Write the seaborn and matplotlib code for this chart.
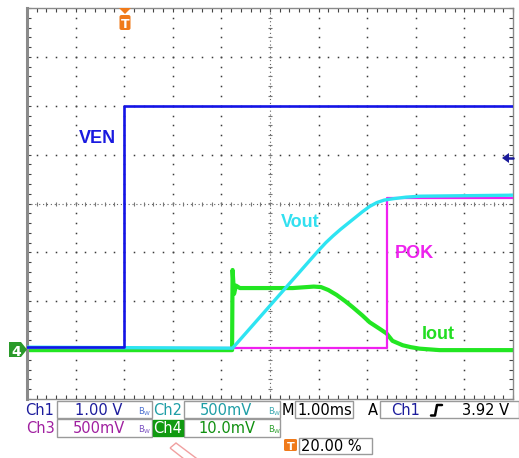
import numpy as np
import pandas as pd
import matplotlib
matplotlib.use("Agg")
import matplotlib.pyplot as plt
import seaborn as sns
from matplotlib.patches import Rectangle, Polygon, FancyBboxPatch
from matplotlib.lines import Line2D

# ---------------- data (time in ms, trigger at 0) ----------------
ven_t = [-2.0, 0.0, 0.0, 8.0]
ven_v = [0.06, 0.06, 5.0, 5.0]                      # V   (Ch1, 1.00 V/div)
vout_t = [-2.0, 2.23, 4.00, 4.15, 4.30, 4.45, 4.60, 4.75, 4.90, 5.05, 5.20, 5.35, 5.55, 5.80, 6.10, 8.0]
vout_v = [0.03, 0.02, 1.02, 1.10, 1.17, 1.235, 1.295, 1.355, 1.415, 1.47, 1.51, 1.535, 1.55, 1.565, 1.575, 1.585]  # V (Ch2, 500 mV/div)
pok_t = [-2.0, 5.40, 5.40, 8.0]
pok_v = [0.02, 0.02, 1.555, 1.555]                  # V   (Ch3, 500 mV/div)
iout_t = [-2.0, 2.22, 2.23, 2.26, 2.30, 2.38, 3.47, 3.90, 4.05, 4.20, 4.37, 4.55, 4.70,
          4.90, 5.05, 5.25, 5.40, 5.52, 5.73, 5.90, 6.08, 6.49, 8.0]
iout_v = [0.0, 0.0, 16.4, 11.5, 13.2, 12.7, 12.7, 13.0, 12.9, 12.3, 11.3, 10.0, 8.8,
          7.1, 5.7, 4.4, 3.4, 1.9, 1.0, 0.6, 0.3, 0.0, 0.0]  # mV  (Ch4, 10.0 mV/div)

ch_scale = {"VEN": 1.0, "Vout": 0.5, "POK": 0.5, "Iout": 10.0}
ground_div = -3.0

status_row1 = ["Ch1", "1.00 V", "Ch2", "500mV", "M", "1.00ms", "A", "Ch1", "3.92 V"]
status_row2 = ["Ch3", "500mV", "Ch4", "10.0mV"]
trig_pos = "20.00 %"

# ---------------- figure ----------------
W, H = 519, 458
sns.set_theme(style="white")
plt.rcParams["font.family"] = ["DejaVu Sans"]
fig = plt.figure(figsize=(W / 100, H / 100), dpi=100)
fig.patch.set_facecolor("white")
ax = fig.add_axes([27 / W, 1 - 399 / H, 486 / W, 391 / H])
ax.set_xlim(-2, 8)
ax.set_ylim(-4, 4)
ax.set_facecolor("white")

def F(x, y):
    return (x / W, 1 - y / H)

# grid dots
gx, gy = [], []
for xi in range(-1, 8):
    if xi == 3:
        continue
    for yy in np.arange(-4, 4.001, 0.2):
        gx.append(xi); gy.append(yy)
for yi in range(-3, 4):
    if yi == 0:
        continue
    for xx in np.arange(-2, 8.001, 0.2):
        gx.append(xx); gy.append(yi)
ax.plot(gx, gy, ls="none", marker="s", ms=1.1, color="#3a3a3a", mew=0, zorder=1)
# center crosshair: fine dotted lines with small ticks
ax.plot([3, 3], [-4, 4], ls=(0, (1, 2.5)), lw=0.8, color="#666666", zorder=1)
ax.plot([-2, 8], [0, 0], ls=(0, (1, 2.5)), lw=0.8, color="#666666", zorder=1)
cy = np.arange(-4, 4.001, 0.2)
ax.plot([3] * len(cy), cy, ls="none", marker="_", ms=3.5, mew=0.8, color="#777777", zorder=1)
cx = np.arange(-2, 8.001, 0.2)
ax.plot(cx, [0] * len(cx), ls="none", marker="|", ms=3.5, mew=0.8, color="#777777", zorder=1)

# ticks on border
ax.set_xticks(np.arange(-2, 8.001, 1))
ax.set_xticks(np.arange(-2, 8.001, 0.2), minor=True)
ax.set_yticks(np.arange(-4, 4.001, 1))
ax.set_yticks(np.arange(-4, 4.001, 0.2), minor=True)
ax.tick_params(which="both", direction="in", length=3, width=0.8, color="#444444",
               top=True, right=True, bottom=True, left=True,
               labelbottom=False, labelleft=False)
for s in ax.spines.values():
    s.set_color("#8a8a8a"); s.set_linewidth(1.0)
ax.spines["left"].set_linewidth(2.2)

# traces
def todiv(vals, ch):
    return np.array(vals) / ch_scale[ch] + ground_div

sns.lineplot(x=np.array(iout_t), y=todiv(iout_v, "Iout"), estimator=None, sort=False,
             color="#22e622", linewidth=3.0, ax=ax, zorder=2)
sns.lineplot(x=np.array(pok_t), y=todiv(pok_v, "POK"), estimator=None, sort=False,
             color="#f020f0", linewidth=1.6, ax=ax, zorder=3)
sns.lineplot(x=np.array(vout_t), y=todiv(vout_v, "Vout"), estimator=None, sort=False,
             color="#2ee4f2", linewidth=2.4, ax=ax, zorder=4)
sns.lineplot(x=np.array(ven_t), y=todiv(ven_v, "VEN"), estimator=None, sort=False,
             color="#1414e6", linewidth=1.9, ax=ax, zorder=5)

# trace labels
lab_kw = dict(fontsize=13, fontweight="bold", family=["Liberation Sans", "DejaVu Sans"],
              ha="center", va="baseline", zorder=6)
ax.text(-0.545, 1.238, "VEN", color="#1a1ae0", **lab_kw)
ax.text(3.63, -0.481, "Vout", color="#33e0f0", **lab_kw)
ax.text(5.96, -1.115, "POK", color="#ee22ee", **lab_kw)
ax.text(6.47, -2.772, "Iout", color="#22dd22", **lab_kw)

# ---------------- markers ----------------
orange = "#f07a1a"
fig.patches.append(Polygon([F(119, 8), F(131, 8), F(125, 14)], closed=True,
                           transform=fig.transFigure, fc=orange, ec="none", zorder=10))
fig.patches.append(FancyBboxPatch(F(119.5, 30), 11 / W, 15 / H,
                                  boxstyle="round,pad=0,rounding_size=0.004",
                                  transform=fig.transFigure, fc=orange, ec="none", zorder=10))
fig.text(*F(125, 28), "T", color="white", fontsize=9, fontweight="bold",
         ha="center", va="baseline", zorder=11)

# Ch4 ground marker
fig.patches.append(Polygon([F(9, 342), F(21, 342), F(27, 349.5), F(21, 357), F(9, 357)],
                           closed=True, transform=fig.transFigure, fc="#2a9a2a", ec="none", zorder=10))
fig.text(*F(16, 355.5), "4", color="white", fontsize=10, fontweight="bold",
         ha="center", va="baseline", zorder=11)

# Ch1 trigger-level marker
fig.patches.append(Polygon([F(502, 158), F(509, 153), F(509, 163)], closed=True,
                           transform=fig.transFigure, fc="#1a1a9a", ec="none", zorder=10))
fig.lines.append(Line2D([508 / W, 513 / W], [1 - 158 / H, 1 - 158 / H], transform=fig.transFigure,
                        color="#1a1a9a", lw=1.8, zorder=10))

# ---------------- status bar ----------------
box_ec = "#9a9a9a"
def box(x0, y0, x1, y1, fc="white", ec=box_ec):
    fig.patches.append(Rectangle(F(x0, y1), (x1 - x0) / W, (y1 - y0) / H,
                                 transform=fig.transFigure, fc=fc, ec=ec, lw=1.0, zorder=5))

box(57, 401, 152, 418)
box(184, 401, 280, 418)
box(295, 401, 353, 418)
box(380, 401, 519, 418)
box(57, 419, 152, 437)
box(184, 419, 280, 437)
box(153, 420, 183, 436, fc="#109a10", ec="#109a10")
box(299, 438, 372, 454)

st = dict(fontsize=10.5, ha="center", va="baseline", zorder=8)
navy, teal, purple, dgreen = "#1c1c9c", "#1e9ea6", "#a020a0", "#109010"
fig.text(*F(40, 415), status_row1[0], color=navy, **st)
fig.text(*F(98.5, 415), status_row1[1], color=navy, **st)
fig.text(*F(168, 415), status_row1[2], color=teal, **st)
fig.text(*F(226, 415), status_row1[3], color=teal, **st)
fig.text(*F(287.5, 415), status_row1[4], color="black", **st)
fig.text(*F(325, 415), status_row1[5], color="black", **st)
fig.text(*F(373, 415), status_row1[6], color="black", **st)
fig.text(*F(406, 415), status_row1[7], color=navy, **st)
fig.text(*F(485.5, 415), status_row1[8], color="black", **st)
fig.lines.append(Line2D([431 / W, 435 / W, 437 / W, 442 / W],
                        [1 - 415.5 / H, 1 - 415.5 / H, 1 - 405 / H, 1 - 405 / H],
                        transform=fig.transFigure, color="black", lw=1.8, zorder=8))

fig.text(*F(40.5, 433), status_row2[0], color=purple, **st)
fig.text(*F(99, 433), status_row2[1], color=purple, **st)
fig.text(*F(168, 433), status_row2[2], color="white", **st)
fig.text(*F(226.5, 433), status_row2[3], color=dgreen, **st)

bw = dict(fontsize=6, ha="center", va="baseline", zorder=8)
fig.text(*F(145, 415), r"$\mathregular{B_W}$", color="#4a6fd0", **bw)
fig.text(*F(275, 415), r"$\mathregular{B_W}$", color="#3aa8b0", **bw)
fig.text(*F(145, 433), r"$\mathregular{B_W}$", color="#7a50c0", **bw)
fig.text(*F(275, 433), r"$\mathregular{B_W}$", color="#30a030", **bw)

# trigger position
fig.patches.append(FancyBboxPatch(F(284, 451), 13 / W, 12 / H,
                                  boxstyle="round,pad=0,rounding_size=0.003",
                                  transform=fig.transFigure, fc=orange, ec="none", zorder=8))
fig.text(*F(290.5, 450), "T", color="white", fontsize=8, fontweight="bold",
         ha="center", va="baseline", zorder=9)
fig.text(*F(331, 451), trig_pos, color="black", **st)

# faint red pencil mark
fig.patches.append(Polygon([F(170, 448), F(176, 443), F(200, 461), F(193, 466)], closed=True,
                           transform=fig.transFigure, fc="none", ec="#f0a0a0", lw=1.0, zorder=4))

fig.savefig("out.png", dpi=100, facecolor="white")
